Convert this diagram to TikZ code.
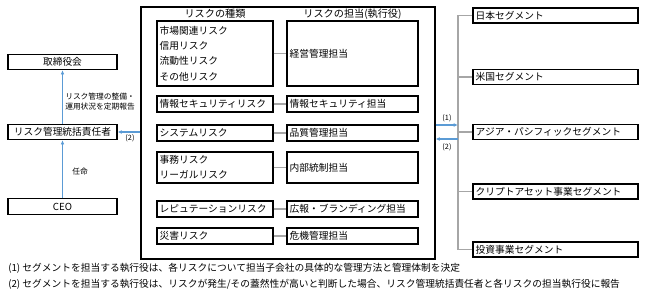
\documentclass[tikz,border=0pt]{standalone}
\usepackage{fontspec}
\setmainfont{Noto Sans CJK JP}
\usetikzlibrary{arrows.meta}
\definecolor{arrowblue}{HTML}{5B9BD5}
\definecolor{linkgrey}{HTML}{A6A6A6}
\begin{document}
\begin{tikzpicture}[x=0.75pt,y=-0.75pt,
  box/.style={draw=black,line width=0.8pt,inner xsep=2pt,inner ysep=0pt,font=\fontsize{7.3}{11.5}\selectfont},
  leftbox/.style={box,minimum width=81.75pt,minimum height=11.5pt,align=center},
  riskbox/.style={box,text width=83pt,align=left},
  ownerbox/.style={box,text width=94.25pt,align=left},
  segbox/.style={box,text width=119.75pt,align=left,minimum height=11.25pt},
  frame/.style={draw=black,line width=0.8pt,minimum width=220.5pt,minimum height=189pt,inner sep=0pt},
  head/.style={font=\fontsize{7.6}{9}\selectfont,inner sep=0pt},
  small/.style={font=\fontsize{5.8}{7.5}\selectfont,inner sep=0pt,align=left},
  tiny/.style={font=\fontsize{5.5}{7}\selectfont,inner sep=0pt},
  note/.style={font=\fontsize{7.3}{9}\selectfont,inner sep=0pt,anchor=west},
  link/.style={draw=linkgrey,line width=0.8pt},
  flow/.style={draw=arrowblue,line width=0.8pt,-{Latex[length=3.2pt,width=2.8pt]}}
]
\useasboundingbox (0,0) rectangle (645,295);

% left column
\node[leftbox] (board) at (62.5,62) {取締役会};
\node[leftbox] (rm) at (62.5,132) {リスク管理統括責任者};
\node[leftbox] (ceo) at (62.5,206.5) {CEO};

% main frame
\node[frame] (frame) at (288,133) {};
\node[head] (h1) at (215,14) {リスクの種類};
\node[head] (h2) at (352.5,14) {リスクの担当(執行役)};

% risk rows
\node[riskbox,minimum height=48.75pt,font=\fontsize{7.3}{11.5}\selectfont] (l1) at (215,53.5) {市場関連リスク\\信用リスク\\流動性リスク\\その他リスク};
\node[ownerbox,minimum height=48.75pt] (r1) at (352.5,53.5) {経営管理担当};
\node[riskbox,minimum height=12pt] (l2) at (215,104) {情報セキュリティリスク};
\node[ownerbox,minimum height=12pt] (r2) at (352.5,104) {情報セキュリティ担当};
\node[riskbox,minimum height=12pt] (l3) at (215,133) {システムリスク};
\node[ownerbox,minimum height=12pt] (r3) at (352.5,133) {品質管理担当};
\node[riskbox,minimum height=23.25pt,font=\fontsize{7.3}{11.25}\selectfont] (l4) at (215,167.5) {事務リスク\\リーガルリスク};
\node[ownerbox,minimum height=23.25pt] (r4) at (352.5,167.5) {内部統制担当};
\node[riskbox,minimum height=12pt] (l5) at (215,209) {レピュテーションリスク};
\node[ownerbox,minimum height=12pt] (r5) at (352.5,209) {広報・ブランディング担当};
\node[riskbox,minimum height=12pt] (l6) at (215,236) {災害リスク};
\node[ownerbox,minimum height=12pt] (r6) at (352.5,236) {危機管理担当};

\foreach \i in {1,...,6} {\draw[link] (l\i.east) -- (r\i.west);}

% segments
\node[segbox] (s1) at (555.5,15.5) {日本セグメント};
\node[segbox] (s2) at (555.5,77) {米国セグメント};
\node[segbox] (s3) at (555.5,132) {アジア・パシフィックセグメント};
\node[segbox] (s4) at (555.5,191.5) {クリプトアセット事業セグメント};
\node[segbox] (s5) at (555.5,249.5) {投資事業セグメント};

\coordinate (tx) at (458,0);
\draw[link] (s1.west) -- (s1.west -| tx) -- (s5.west -| tx) -- (s5.west);
\draw[link] (s2.west) -- (s2.west -| tx);
\draw[link] (s3.west) -- (s3.west -| tx);
\draw[link] (s4.west) -- (s4.west -| tx);

% blue arrows
\coordinate (ya) at (0,125);
\coordinate (yb) at (0,139);
\draw[flow] (frame.east |- ya) -- (tx |- ya);
\draw[flow] (tx |- yb) -- (frame.east |- yb);
\node[tiny] (n1) at (447,118) {(1)};
\node[tiny] (n2) at (447,147) {(2)};

\draw[flow] (frame.west |- rm.east) -- (rm.east);
\node[tiny] (n3) at (130,138.5) {(2)};
\draw[flow] (ceo.north) -- (rm.south);
\draw[flow] (rm.north) -- (board.south);
\node[small,anchor=west] (rep) at (65,102) {リスク管理の整備・\\運用状況を定期報告};
\node[small,anchor=west] (appt) at (72,172) {任命};

% notes
\node[note] (f1) at (8,268) {(1)\ セグメントを担当する執行役は、各リスクについて担当子会社の具体的な管理方法と管理体制を決定};
\node[note] (f2) at (8,284) {(2)\ セグメントを担当する執行役は、リスクが発生/その蓋然性が高いと判断した場合、リスク管理統括責任者と各リスクの担当執行役に報告};
\end{tikzpicture}
\end{document}
